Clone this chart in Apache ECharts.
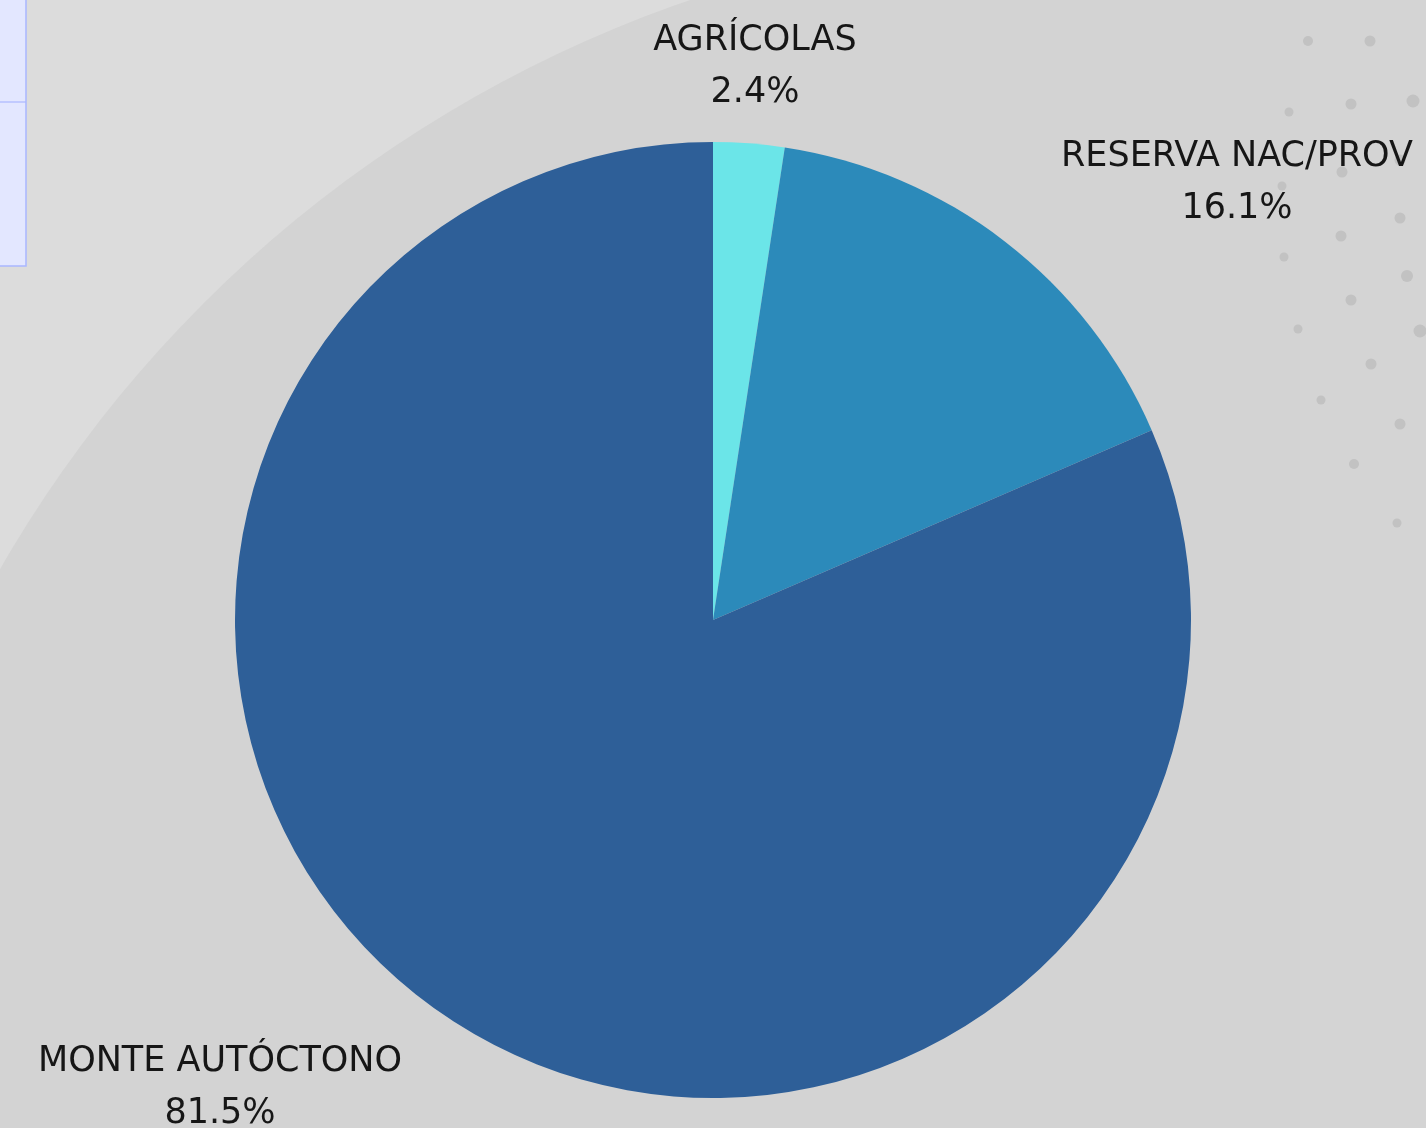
<!DOCTYPE html>
<html>
<head>
<meta charset="utf-8">
<script src="https://cdn.jsdelivr.net/npm/echarts@6/dist/echarts.min.js"></script>
<style>
  html, body { margin: 0; padding: 0; background: #d4d4d4; }
  #main { width: 1426px; height: 1128px; }
</style>
</head>
<body>
<div id="main"></div>
<script>
const categories = ['AGRÍCOLAS', 'RESERVA NAC/PROV', 'MONTE AUTÓCTONO']
const values = [2.4, 16.1, 81.5]
const colors = ['#6be5e8', '#2c8aba', '#2e5f98']

// where each label block sits (centre of the two lines)
const labelSpots = [[755, 67], [1237, 183], [220, 1088]]

// decorative dots on the right edge
const dots = [
  [1308, 41, 5], [1370, 41, 5.5], [1289, 112, 4.5], [1351, 104, 5.5], [1413, 101, 6.5],
  [1400, 160, 5.5], [1342, 172, 5.5], [1282, 186, 4.5], [1400, 218, 5.5], [1341, 236, 5.5],
  [1284, 257, 4.5], [1407, 276, 6], [1351, 300, 5.5], [1298, 329, 4.5], [1420, 331, 6.5],
  [1371, 364, 5.5], [1321, 400, 4.5], [1400, 424, 5.5], [1354, 464, 5], [1397, 523, 4.5]
]

const chart = echarts.init(document.getElementById('main'))

const graphics = [
  { type: 'rect', z: -10, shape: { x: 0, y: 0, width: 1426, height: 1128 }, style: { fill: '#dcdcdc' }, silent: true },
  { type: 'circle', z: -9, shape: { cx: 1100, cy: 1200, r: 1268 }, style: { fill: '#d3d3d3' }, silent: true },
  { type: 'rect', z: -8, shape: { x: 1300, y: 0, width: 126, height: 1128 }, style: { fill: 'rgba(255,255,255,0.04)' }, silent: true },
  { type: 'rect', z: 10, shape: { x: -2, y: -2, width: 28, height: 268 }, style: { fill: '#e3e7ff', stroke: '#a9b7ff', lineWidth: 1.5 }, silent: true },
  { type: 'line', z: 11, shape: { x1: 0, y1: 102, x2: 26, y2: 102 }, style: { stroke: '#a9b7ff', lineWidth: 1.2 }, silent: true }
]
dots.forEach(function (d) {
  graphics.push({ type: 'circle', z: -5, shape: { cx: d[0], cy: d[1], r: d[2] }, style: { fill: '#c2c2c2' }, silent: true })
})

const option = {
  backgroundColor: 'transparent',
  graphic: graphics,
  series: [
    {
      type: 'pie',
      center: [713, 620],
      radius: 478,
      startAngle: 90,
      clockwise: true,
      avoidLabelOverlap: false,
      data: categories.map(function (name, i) {
        return { name: name, value: values[i], itemStyle: { color: colors[i] } }
      }),
      label: {
        show: true,
        position: 'outside',
        formatter: function (p) { return p.name + '\n' + p.value.toFixed(1) + '%' },
        fontFamily: '"DejaVu Sans", sans-serif',
        fontSize: 35,
        lineHeight: 52,
        color: '#161616',
        align: 'center'
      },
      labelLine: { show: false },
      labelLayout: function (params) {
        const s = labelSpots[params.dataIndex]
        return { x: s[0], y: s[1], align: 'center', verticalAlign: 'middle' }
      },
      emphasis: { disabled: true }
    }
  ]
}

chart.setOption(option)
</script>
</body>
</html>
